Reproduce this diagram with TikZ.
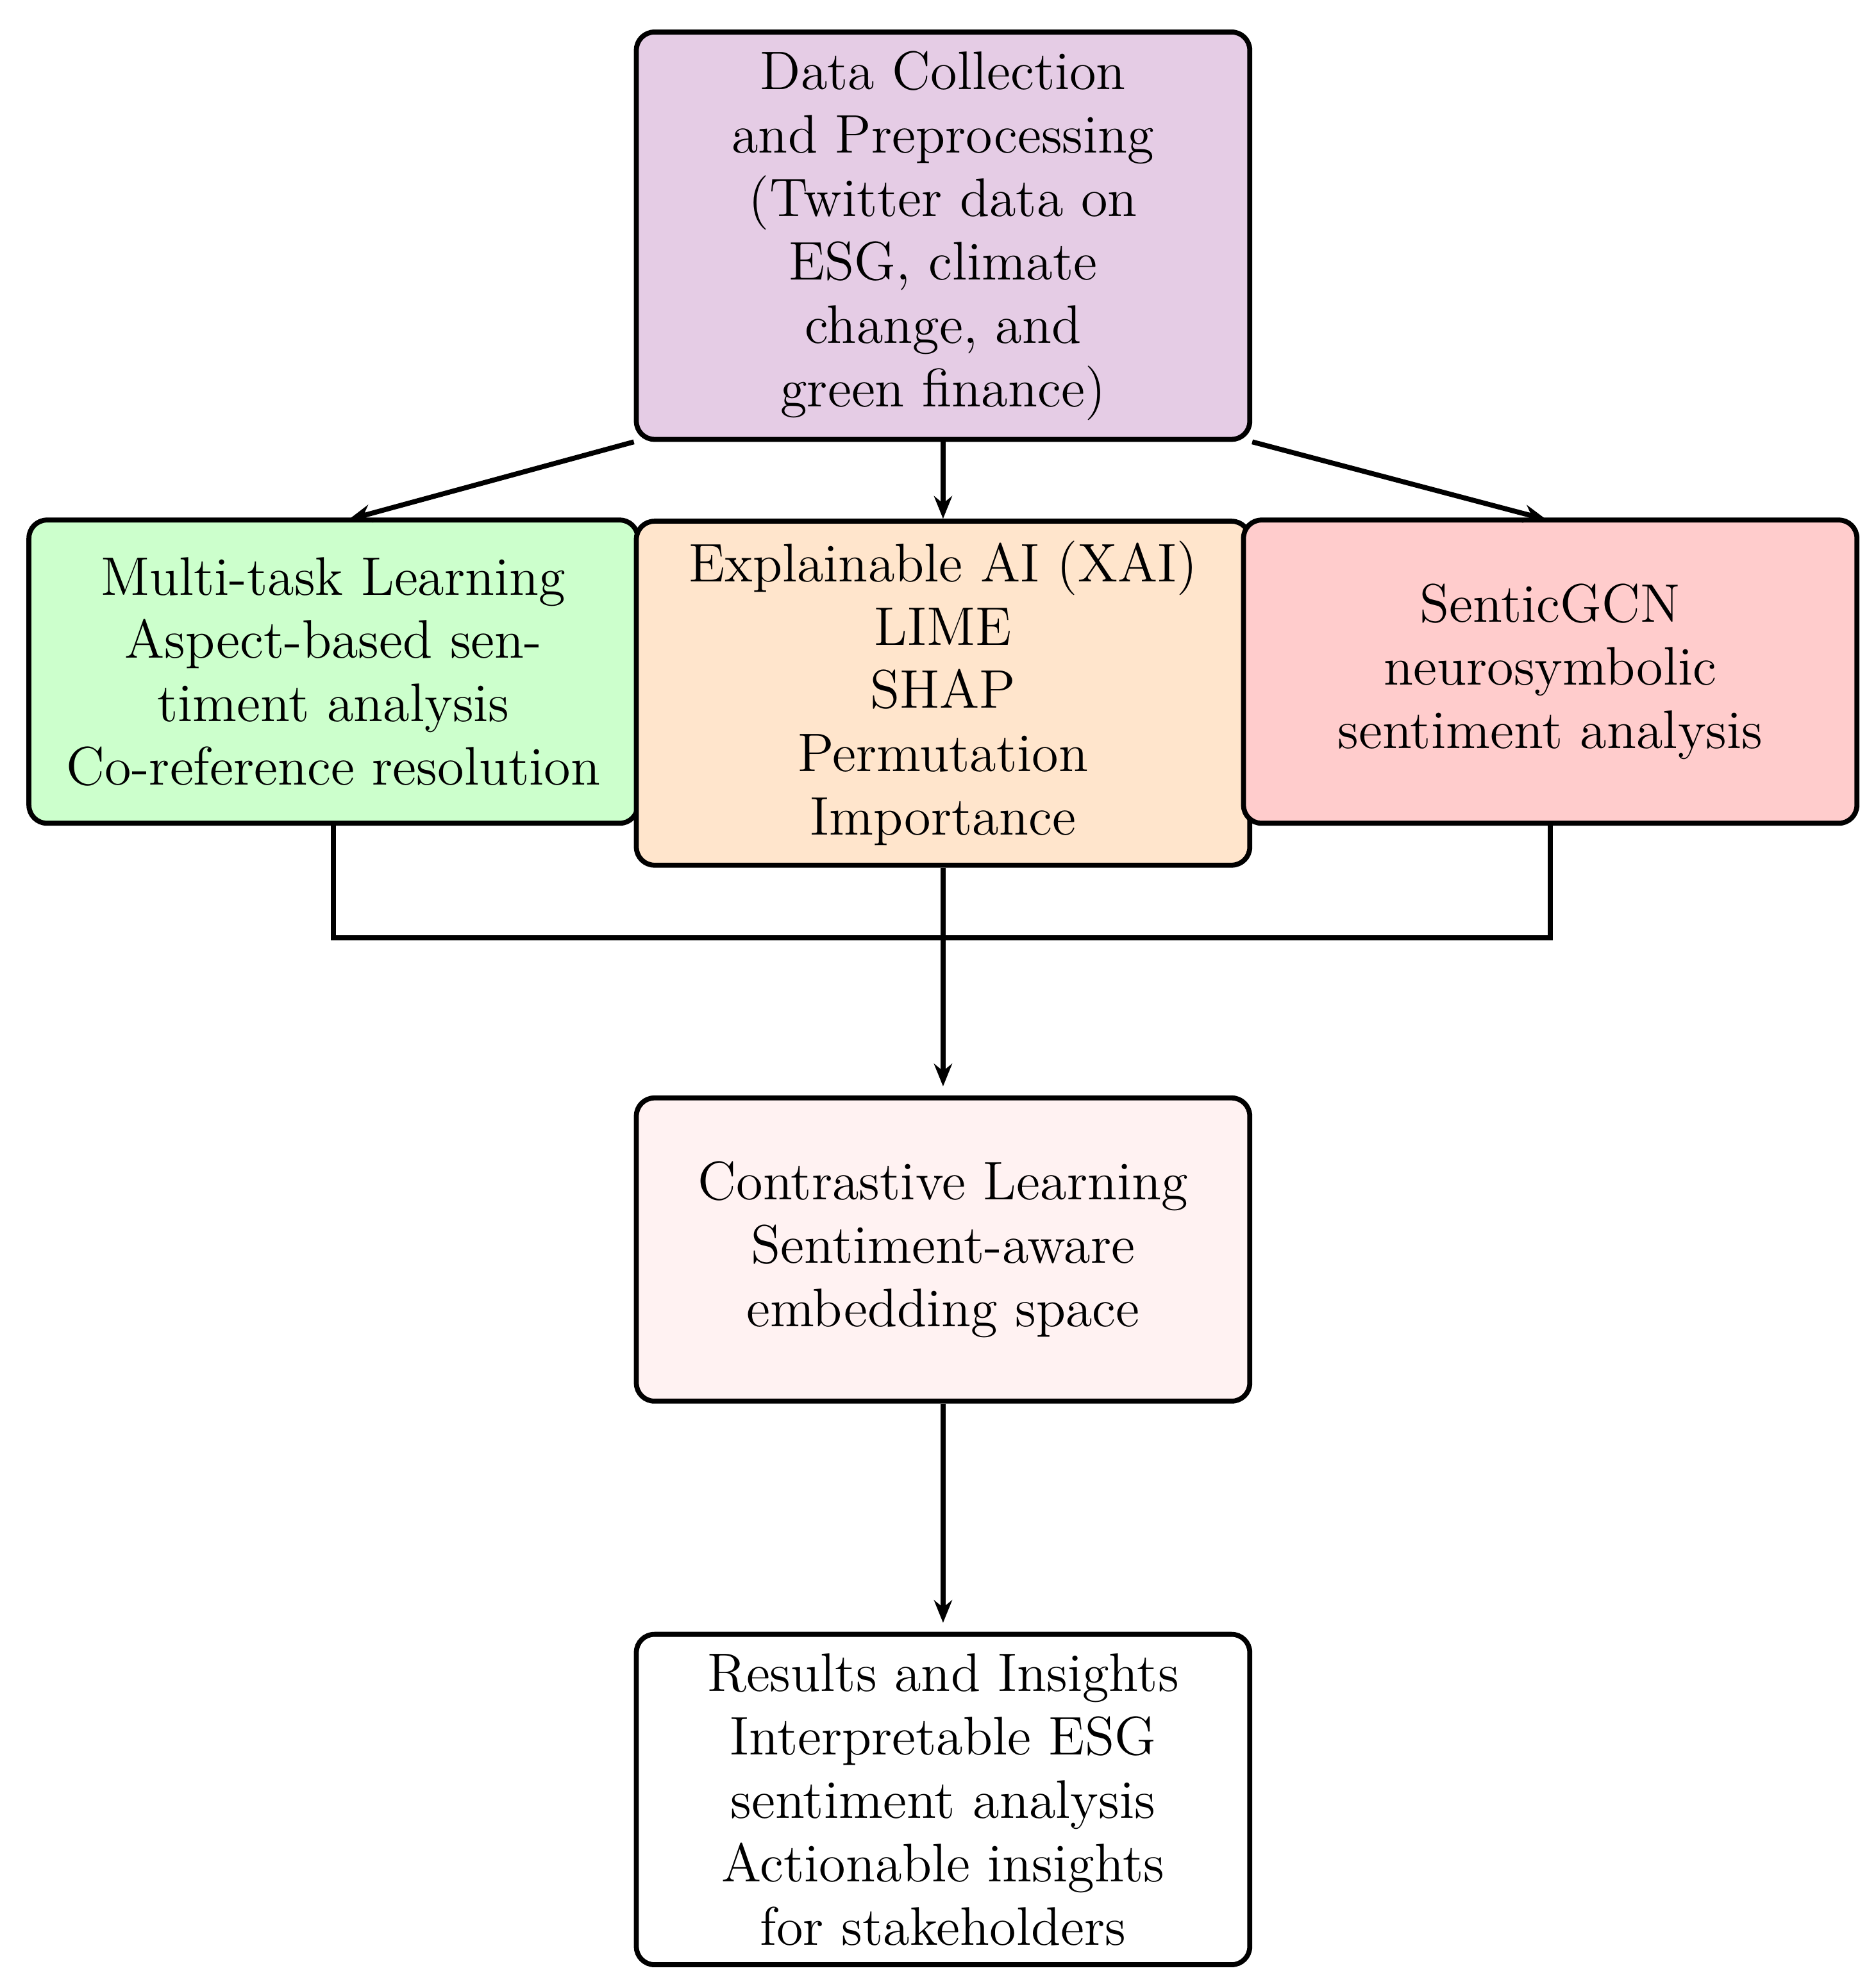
\documentclass[tikz,border=0pt]{standalone}
\usetikzlibrary{arrows.meta}
\begin{document}
\begin{tikzpicture}[x=0.28pt,y=-0.28pt,
  box/.style={draw,line width=1.1pt,rounded corners=4pt,align=center,
    minimum width=135.5pt,inner sep=2pt,font=\fontsize{12}{14}\selectfont},
  arr/.style={line width=1.1pt,-{Stealth[length=5pt,width=4pt]}},
  ln/.style={line width=1.1pt}]
\useasboundingbox (0,0) rectangle (1480,1564);
\node[box,fill=violet!20,minimum height=90pt] (top) at (744,186)
 {Data Collection\\and Preprocessing\\(Twitter data on\\ESG, climate\\change, and\\green finance)};
\node[box,fill=green!20,minimum width=134.5pt,minimum height=67pt] (left) at (263,530)
 {Multi-task Learning\\Aspect-based sen-\\timent analysis\\Co-reference resolution};
\node[box,fill=orange!20,minimum height=76pt] (mid) at (744,547)
 {Explainable AI (XAI)\\LIME\\SHAP\\Permutation\\Importance};
\node[box,fill=red!20,minimum height=67pt] (right) at (1223,530)
 {SenticGCN\\neurosymbolic\\sentiment analysis};
\node[box,fill=red!5,minimum height=67pt] (con) at (744,986)
 {Contrastive Learning\\Sentiment-aware\\embedding space};
\node[box,fill=white,minimum height=73pt] (res) at (744,1420)
 {Results and Insights\\Interpretable ESG\\sentiment analysis\\Actionable insights\\for stakeholders};
\coordinate (lt) at (275,410);
\coordinate (rt) at (1220,410);
\draw[arr] (top.south west) -- (lt);
\draw[arr] (top.south) -- (mid.north);
\draw[arr] (top.south east) -- (rt);
\coordinate (jl) at (263,740);
\coordinate (jr) at (1223,740);
\draw[ln] (left.south) -- (jl) -- (jr) -- (right.south);
\draw[arr] (mid.south) -- ([yshift=2pt]con.north);
\draw[arr] (con.south) -- ([yshift=2pt]res.north);
\end{tikzpicture}
\end{document}
